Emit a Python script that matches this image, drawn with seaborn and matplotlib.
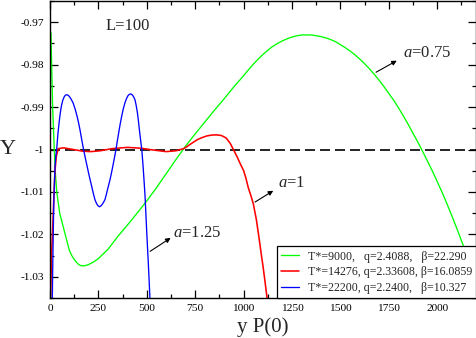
import numpy as np
import pandas as pd
import seaborn as sns
import matplotlib
matplotlib.use("Agg")
import matplotlib.pyplot as plt
from matplotlib.ticker import MultipleLocator, FixedLocator, FuncFormatter

# ---------------- data ----------------
green_x = [5, 9, 14, 20, 26, 35, 50, 70, 100, 115, 130, 145, 160, 180, 200, 225, 250,
           300, 350, 400, 450, 500, 550, 600, 650, 700, 750, 800, 850, 900, 950,
           1000, 1025, 1050, 1075, 1100, 1125, 1150, 1175, 1200, 1225, 1250, 1275,
           1300, 1330, 1350, 1375, 1400, 1425, 1450, 1475, 1500, 1525, 1550, 1575,
           1600, 1625, 1650, 1675, 1700, 1725, 1750, 1775, 1800, 1825, 1850, 1875,
           1900, 1925, 1950, 1975, 2000, 2025, 2050, 2075, 2100, 2125, 2150, 2175, 2200]
green_y = [-0.9725, -0.9810, -0.9905, -0.9975, -1.0045, -1.0100, -1.0150, -1.0185,
           -1.0238, -1.0252, -1.0262, -1.0270, -1.0274, -1.0274, -1.0271, -1.0265,
           -1.0257, -1.0235, -1.0205, -1.0178, -1.0150, -1.0121, -1.0090, -1.0057,
           -1.0024, -0.9992, -0.9963, -0.9935, -0.9907, -0.9880, -0.9852,
           -0.9826, -0.9812, -0.9799, -0.9787, -0.9776, -0.9766, -0.9757, -0.9750,
           -0.9744, -0.9739, -0.9735, -0.9732, -0.9730, -0.9730, -0.9730, -0.9732,
           -0.9734, -0.9737, -0.9741, -0.9746, -0.9753, -0.9760, -0.9768, -0.9777,
           -0.9787, -0.9798, -0.9810, -0.9823, -0.9837, -0.9852, -0.9868, -0.9884,
           -0.9902, -0.9921, -0.9941, -0.9962, -0.9983, -1.0005, -1.0028, -1.0051,
           -1.0076, -1.0101, -1.0128, -1.0156, -1.0185, -1.0215, -1.0246, -1.0278, -1.0311]

red_x = [3, 8, 14, 20, 26, 33, 43, 70, 120, 170, 210, 260, 320, 400, 470, 530, 600,
         650, 690, 705, 720, 740, 760, 785, 810, 835, 860, 885, 910, 930, 947, 965,
         981, 1000, 1012, 1024, 1037, 1050, 1066, 1081, 1092, 1100, 1110, 1121]
red_y = [-1.0350, -1.0250, -1.0185, -1.0110, -1.0048, -1.0015, -0.9998, -0.9996,
         -1.0000, -1.0004, -1.0005, -1.0003, -0.9998, -0.9995, -0.9997, -1.0001,
         -1.0005, -1.0003, -0.9998, -0.9994, -0.9989, -0.9983, -0.9977, -0.9972,
         -0.9968, -0.9966, -0.99655, -0.9967, -0.9973, -0.9985, -1.0000, -1.0016,
         -1.0032, -1.0050, -1.0068, -1.0090, -1.0108, -1.0128, -1.0166, -1.0213,
         -1.0250, -1.0275, -1.0310, -1.0350]

blue_x = [12, 14, 16, 18, 20, 23, 26, 30, 35, 40, 45, 50, 55, 60, 66, 72, 79, 86, 93,
          100, 110, 120, 130, 140, 148, 155, 164, 172, 181, 190, 199, 207, 216, 224,
          232, 240, 247, 255, 263, 270, 277, 284, 292, 300, 310, 318, 325, 333, 341,
          348, 355, 362, 370, 378, 387, 396, 403, 410, 417, 424, 431, 439, 445, 451,
          456, 462, 468, 474, 480, 486, 491, 495, 499, 504, 508, 512, 516]
blue_y = [-1.0350, -1.0280, -1.0220, -1.0165, -1.0120, -1.0075, -1.0040, -1.0015,
          -0.9997, -0.9968, -0.9945, -0.9925, -0.9908, -0.9895, -0.9884, -0.9877,
          -0.9872, -0.9871, -0.9872, -0.9875, -0.9882, -0.9891, -0.9905, -0.9922,
          -0.9938, -0.9954, -0.9977, -0.9997, -1.0017, -1.0036, -1.0055, -1.0071,
          -1.0088, -1.0104, -1.0118, -1.0127, -1.0132, -1.0135, -1.0133, -1.0129,
          -1.0124, -1.0118, -1.0104, -1.0089, -1.0071, -1.0054, -1.0038, -1.0019,
          -0.9999, -0.9979, -0.9960, -0.9941, -0.9922, -0.9905, -0.9890, -0.9879,
          -0.9873, -0.9870, -0.9869, -0.9871, -0.9875, -0.9883, -0.9896, -0.9912,
          -0.9930, -0.9955, -0.9978, -1.0000, -1.0035, -1.0075, -1.0111, -1.0150,
          -1.0189, -1.0235, -1.0270, -1.0310, -1.0350]

series_labels = ["T*=9000,   q=2.4088,   \u03b2=22.290",
                 "T*=14276, q=2.33608, \u03b2=16.0859",
                 "T*=22200, q=2.2400,   \u03b2=10.327"]
series_colors = ["#00ff00", "#ff0000", "#0000ff"]

x_major_ticks = [0, 250, 500, 750, 1000, 1250, 1500, 1750, 2000]
y_major_ticks = [-1.03, -1.02, -1.01, -1.0, -0.99, -0.98, -0.97]
reference_level = -1.0

annotations = [  # text, text position, arrow tail, arrow head
    ("$a$=0.75", (1825, -0.97732), (1684, -0.98179), (1791, -0.97906)),
    ("$a$=1", (1179, -1.0079), (1059, -1.01238), (1153, -1.00972)),
    ("$a$=1.25", (637, -1.01972), (517, -1.0240), (623, -1.02085)),
]

# ---------------- style ----------------
sns.set_theme(style="ticks")
plt.rcParams["font.family"] = ["Liberation Serif", "DejaVu Serif"]
plt.rcParams["mathtext.fontset"] = "custom"
plt.rcParams["mathtext.rm"] = "Liberation Serif"
plt.rcParams["mathtext.it"] = "Liberation Serif:italic"
plt.rcParams["axes.unicode_minus"] = False

fig = plt.figure(figsize=(4.77, 3.38), dpi=100)
ax = fig.add_axes([50 / 477, 1 - 298 / 338, 426 / 477, 297 / 338])

frames = []
for xs, ys, lab in zip([green_x, red_x, blue_x], [green_y, red_y, blue_y], series_labels):
    frames.append(pd.DataFrame({"x": xs, "y": ys, "series": lab}))
df = pd.concat(frames, ignore_index=True)

for lab, col, lw in zip(series_labels, series_colors, [0.95, 1.15, 0.95]):
    sub = df[df["series"] == lab]
    sns.lineplot(data=sub, x="x", y="y", color=col, lw=lw, sort=False,
                 estimator=None, ax=ax, label=lab)

ax.axhline(reference_level, color="black", lw=1.2, ls=(0, (6, 3)), zorder=1)

ax.set_xlim(0, 2200)
ax.set_ylim(-1.035, -0.965)

ax.xaxis.set_major_locator(FixedLocator(x_major_ticks))
ax.xaxis.set_minor_locator(MultipleLocator(125))
ax.yaxis.set_major_locator(FixedLocator(y_major_ticks))
ax.yaxis.set_minor_locator(MultipleLocator(0.005))
ax.yaxis.set_major_formatter(FuncFormatter(lambda v, p: "%g" % round(v, 4)))
ax.xaxis.set_major_formatter(FuncFormatter(lambda v, p: "%g" % v))

ax.tick_params(which="both", direction="in", top=True, right=True, colors="black",
               labelsize=8.2, width=0.9)
ax.tick_params(which="major", length=6, pad=4)
ax.tick_params(which="minor", length=3)
for s in ax.spines.values():
    s.set_color("black")
    s.set_linewidth(1.0)

ax.set_xlabel("y P(0)", fontsize=15, va="center")
ax.set_ylabel("Y", fontsize=16, rotation=0, va="center", ha="center")
ax.xaxis.set_label_coords(0.5, -0.098)
ax.yaxis.set_label_coords(-0.098, 0.50)

ax.text(289, -0.97078, "L=100", fontsize=12, ha="left", va="center")

for txt, tpos, tail, head in annotations:
    ax.text(tpos[0], tpos[1], txt, fontsize=12, ha="left", va="center")
    ax.annotate("", xy=head, xytext=tail,
                arrowprops=dict(arrowstyle="-|>", color="black", lw=0.8,
                                mutation_scale=7, shrinkA=0, shrinkB=0))

leg = ax.legend(loc="lower right", bbox_to_anchor=(1.0, 0.0), borderaxespad=0,
                fontsize=8.6, frameon=True, fancybox=False, framealpha=1,
                edgecolor="black", handlelength=1.5, handletextpad=0.7,
                labelspacing=0.3, borderpad=0.35)
leg.get_frame().set_linewidth(0.9)

fig.savefig("out.png", dpi=100)
